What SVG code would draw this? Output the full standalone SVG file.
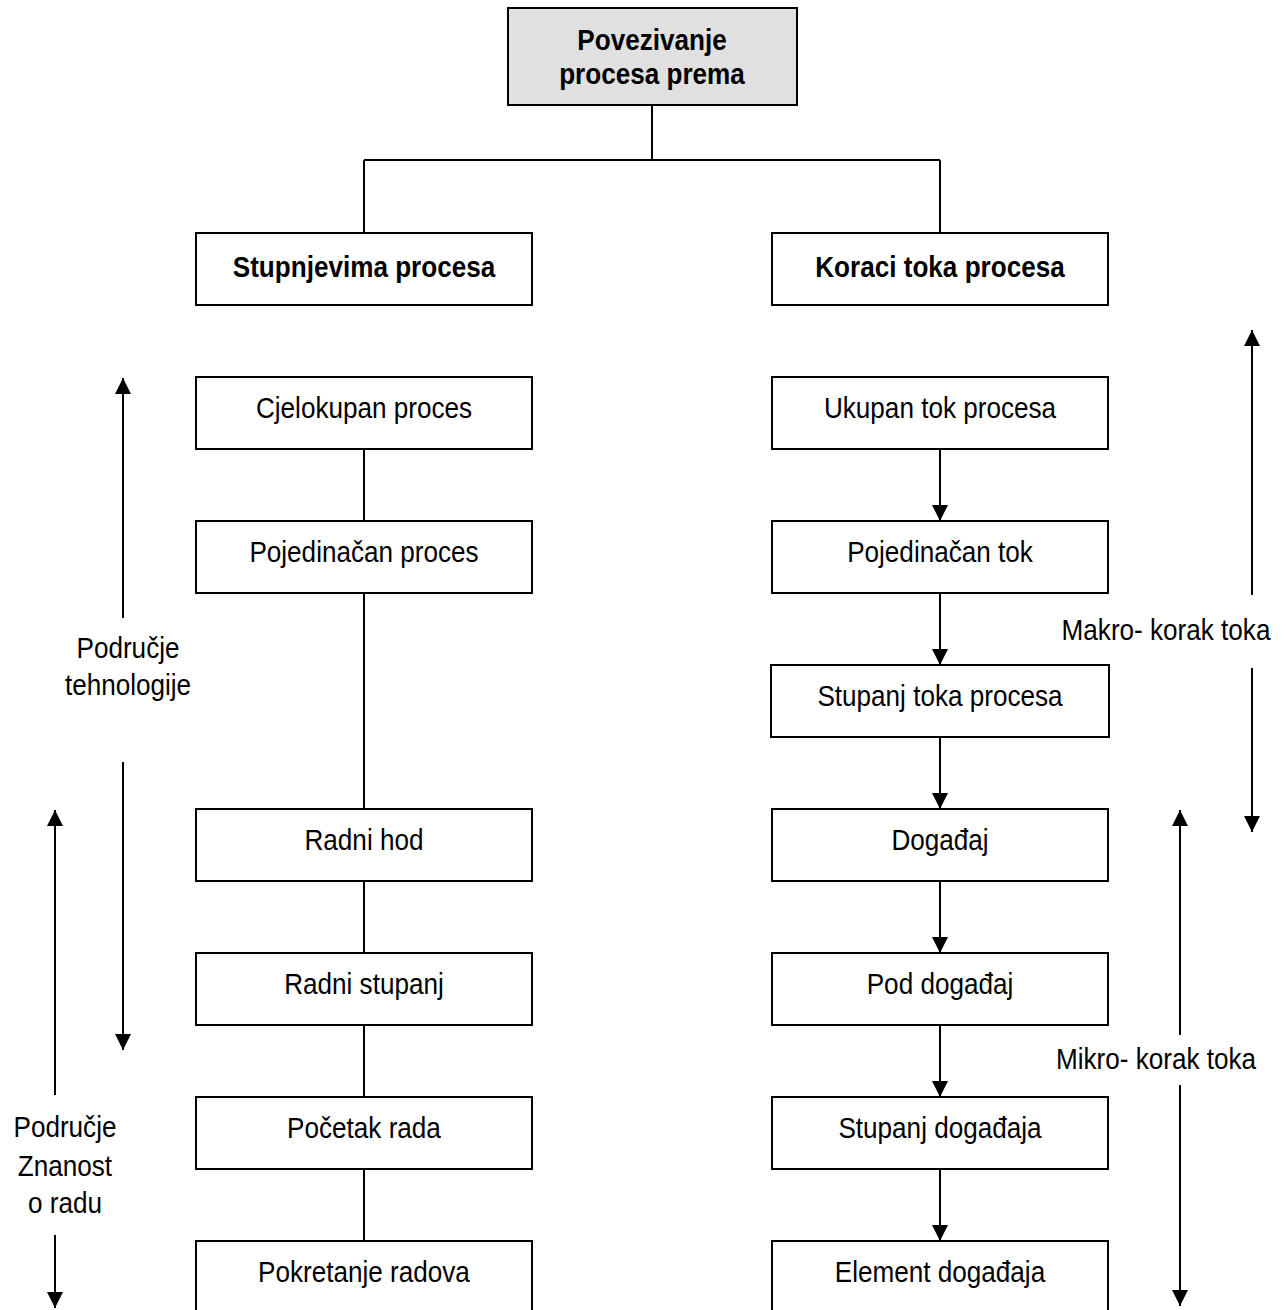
<svg xmlns="http://www.w3.org/2000/svg" width="1286" height="1310" viewBox="0 0 1286 1310">
<style>
.box{fill:#fff;stroke:#000;stroke-width:2}
.top{fill:#e0e0e0;stroke:#000;stroke-width:2}
.t{font-family:"Liberation Sans",Arial,sans-serif;font-size:30px;fill:#000;text-anchor:middle}
.b{font-weight:bold}
.ln{stroke:#000;stroke-width:2;fill:none}
</style>
<defs>
<marker id="ah" viewBox="0 0 10 10" refX="10" refY="5" markerWidth="8" markerHeight="8" markerUnits="strokeWidth" orient="auto">
<path d="M0,0 L10,5 L0,10 Z" fill="#000"/>
</marker>
</defs>
<g id="connectors">
<path class="ln" d="M652,105 V160 M364,160 H940 M364,160 V233 M940,160 V233"/>
<path class="ln" d="M364,449 V521 M364,593 V809 M364,881 V953 M364,1025 V1097 M364,1169 V1241"/>
<line class="ln" x1="940" y1="449" x2="940" y2="521" marker-end="url(#ah)"/>
<line class="ln" x1="940" y1="593" x2="940" y2="665" marker-end="url(#ah)"/>
<line class="ln" x1="940" y1="737" x2="940" y2="809" marker-end="url(#ah)"/>
<line class="ln" x1="940" y1="881" x2="940" y2="953" marker-end="url(#ah)"/>
<line class="ln" x1="940" y1="1025" x2="940" y2="1097" marker-end="url(#ah)"/>
<line class="ln" x1="940" y1="1169" x2="940" y2="1241" marker-end="url(#ah)"/>
<line class="ln" x1="123" y1="618" x2="123" y2="378" marker-end="url(#ah)"/>
<line class="ln" x1="123" y1="762" x2="123" y2="1050" marker-end="url(#ah)"/>
<line class="ln" x1="55" y1="1095" x2="55" y2="810" marker-end="url(#ah)"/>
<line class="ln" x1="55" y1="1235" x2="55" y2="1308" marker-end="url(#ah)"/>
<line class="ln" x1="1252" y1="595" x2="1252" y2="330" marker-end="url(#ah)"/>
<line class="ln" x1="1252" y1="668" x2="1252" y2="832" marker-end="url(#ah)"/>
<line class="ln" x1="1180" y1="1035" x2="1180" y2="810" marker-end="url(#ah)"/>
<line class="ln" x1="1180" y1="1085" x2="1180" y2="1306" marker-end="url(#ah)"/>
</g>
<g id="n_top"><rect class="top" x="508" y="8" width="289" height="97"/><g transform="scale(0.87,1)"><text class="t b" x="749.43" y="50">Povezivanje</text><text class="t b" x="749.43" y="84">procesa prema</text></g></g>
<g id="n_stup"><rect class="box" x="196" y="233" width="336" height="72"/><text class="t b" transform="scale(0.87,1)" x="418.39" y="277">Stupnjevima procesa</text></g>
<g id="n_kor"><rect class="box" x="772" y="233" width="336" height="72"/><text class="t b" transform="scale(0.87,1)" x="1080.46" y="277">Koraci toka procesa</text></g>
<g id="n_l1"><rect class="box" x="196" y="377" width="336" height="72"/><text class="t" transform="scale(0.87,1)" x="418.39" y="418">Cjelokupan proces</text></g>
<g id="n_l2"><rect class="box" x="196" y="521" width="336" height="72"/><text class="t" transform="scale(0.87,1)" x="418.39" y="562">Pojedinačan proces</text></g>
<g id="n_l3"><rect class="box" x="196" y="809" width="336" height="72"/><text class="t" transform="scale(0.87,1)" x="418.39" y="850">Radni hod</text></g>
<g id="n_l4"><rect class="box" x="196" y="953" width="336" height="72"/><text class="t" transform="scale(0.87,1)" x="418.39" y="994">Radni stupanj</text></g>
<g id="n_l5"><rect class="box" x="196" y="1097" width="336" height="72"/><text class="t" transform="scale(0.87,1)" x="418.39" y="1138">Početak rada</text></g>
<g id="n_l6"><rect class="box" x="196" y="1241" width="336" height="72"/><text class="t" transform="scale(0.87,1)" x="418.39" y="1282">Pokretanje radova</text></g>
<g id="n_r1"><rect class="box" x="772" y="377" width="336" height="72"/><text class="t" transform="scale(0.87,1)" x="1080.46" y="418">Ukupan tok procesa</text></g>
<g id="n_r2"><rect class="box" x="772" y="521" width="336" height="72"/><text class="t" transform="scale(0.87,1)" x="1080.46" y="562">Pojedinačan tok</text></g>
<g id="n_r3"><rect class="box" x="771" y="665" width="338" height="72"/><text class="t" transform="scale(0.87,1)" x="1080.46" y="706">Stupanj toka procesa</text></g>
<g id="n_r4"><rect class="box" x="772" y="809" width="336" height="72"/><text class="t" transform="scale(0.87,1)" x="1080.46" y="850">Događaj</text></g>
<g id="n_r5"><rect class="box" x="772" y="953" width="336" height="72"/><text class="t" transform="scale(0.87,1)" x="1080.46" y="994">Pod događaj</text></g>
<g id="n_r6"><rect class="box" x="772" y="1097" width="336" height="72"/><text class="t" transform="scale(0.87,1)" x="1080.46" y="1138">Stupanj događaja</text></g>
<g id="n_r7"><rect class="box" x="772" y="1241" width="336" height="72"/><text class="t" transform="scale(0.87,1)" x="1080.46" y="1282">Element događaja</text></g>
<g id="labels" transform="scale(0.87,1)">
<text class="t" x="147.13" y="658">Područje</text>
<text class="t" x="147.13" y="695">tehnologije</text>
<text class="t" x="74.71" y="1137">Područje</text>
<text class="t" x="74.71" y="1176">Znanost</text>
<text class="t" x="74.71" y="1213">o radu</text>
<text class="t" x="1340.23" y="640">Makro- korak toka</text>
<text class="t" x="1328.74" y="1069">Mikro- korak toka</text>
</g>
</svg>
